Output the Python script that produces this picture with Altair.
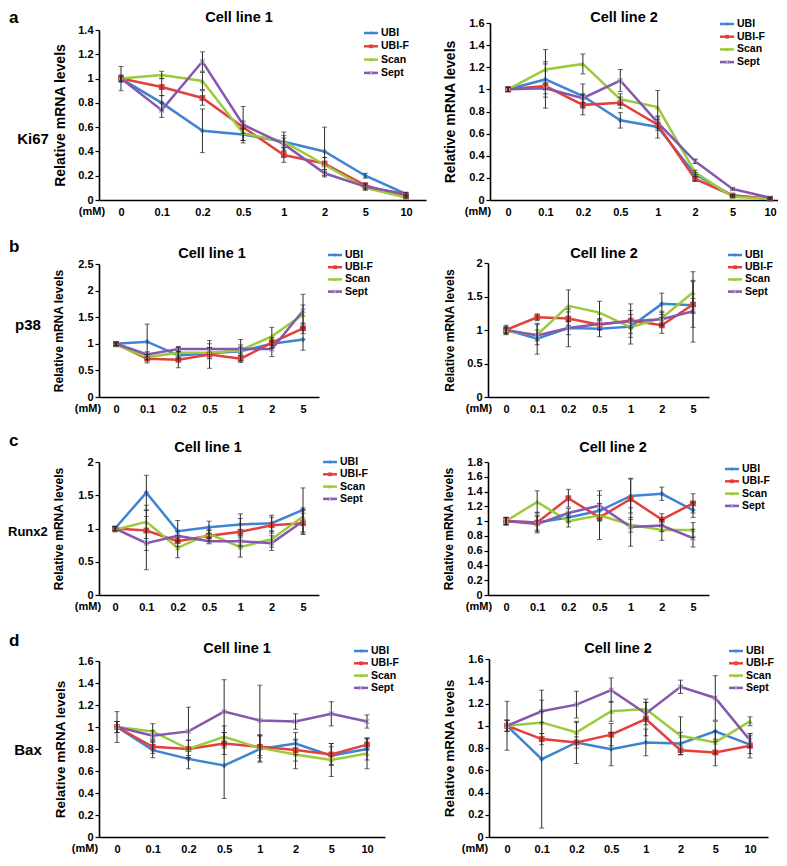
import altair as alt
import pandas as pd

# ---------------- data ----------------
DOSES_8 = ["0", "0.1", "0.2", "0.5", "1", "2", "5", "10"]
DOSES_7 = ["0", "0.1", "0.2", "0.5", "1", "2", "5"]
SERIES = ["UBI", "UBI-F", "Scan", "Sept"]
COLORS = ["#3e84d4", "#e3403b", "#9bcb3b", "#8557ae"]

ki67_cl1_mean = {
    "UBI":   [1.00, 0.80, 0.57, 0.54, 0.48, 0.40, 0.20, 0.05],
    "UBI-F": [1.00, 0.93, 0.84, 0.60, 0.37, 0.30, 0.12, 0.03],
    "Scan":  [1.00, 1.03, 0.98, 0.55, 0.48, 0.29, 0.10, 0.02],
    "Sept":  [1.00, 0.74, 1.14, 0.62, 0.46, 0.22, 0.11, 0.05],
}
ki67_cl1_err = {
    "UBI":   [0.02, 0.06, 0.18, 0.05, 0.08, 0.20, 0.02, 0.01],
    "UBI-F": [0.03, 0.07, 0.06, 0.05, 0.06, 0.05, 0.02, 0.01],
    "Scan":  [0.02, 0.03, 0.07, 0.06, 0.05, 0.06, 0.02, 0.01],
    "Sept":  [0.10, 0.06, 0.08, 0.15, 0.05, 0.03, 0.02, 0.01],
}
ki67_cl2_mean = {
    "UBI":   [1.00, 1.09, 0.94, 0.72, 0.66, 0.23, 0.04, 0.01],
    "UBI-F": [1.00, 1.03, 0.86, 0.88, 0.68, 0.19, 0.04, 0.01],
    "Scan":  [1.00, 1.18, 1.23, 0.91, 0.84, 0.25, 0.03, 0.01],
    "Sept":  [1.00, 1.01, 0.92, 1.08, 0.70, 0.35, 0.10, 0.02],
}
ki67_cl2_err = {
    "UBI":   [0.02, 0.16, 0.11, 0.07, 0.10, 0.02, 0.01, 0.01],
    "UBI-F": [0.02, 0.20, 0.09, 0.05, 0.05, 0.02, 0.01, 0.01],
    "Scan":  [0.02, 0.18, 0.09, 0.05, 0.15, 0.02, 0.01, 0.01],
    "Sept":  [0.02, 0.05, 0.04, 0.10, 0.05, 0.02, 0.01, 0.01],
}
p38_cl1_mean = {
    "UBI":   [1.00, 1.04, 0.78, 0.82, 0.86, 1.00, 1.08],
    "UBI-F": [1.00, 0.72, 0.70, 0.80, 0.72, 1.02, 1.29],
    "Scan":  [0.98, 0.75, 0.83, 0.83, 0.88, 1.14, 1.55],
    "Sept":  [1.00, 0.80, 0.90, 0.90, 0.90, 0.90, 1.62],
}
p38_cl1_err = {
    "UBI":   [0.03, 0.33, 0.08, 0.10, 0.08, 0.08, 0.20],
    "UBI-F": [0.03, 0.08, 0.15, 0.26, 0.07, 0.10, 0.10],
    "Scan":  [0.03, 0.05, 0.10, 0.10, 0.20, 0.17, 0.18],
    "Sept":  [0.03, 0.05, 0.05, 0.10, 0.08, 0.14, 0.31],
}
p38_cl2_mean = {
    "UBI":   [1.00, 0.87, 1.03, 1.02, 1.05, 1.39, 1.37],
    "UBI-F": [1.00, 1.19, 1.17, 1.08, 1.14, 1.07, 1.38],
    "Scan":  [0.98, 0.93, 1.36, 1.26, 1.04, 1.18, 1.56],
    "Sept":  [1.00, 0.92, 1.03, 1.09, 1.13, 1.16, 1.28],
}
p38_cl2_err = {
    "UBI":   [0.07, 0.23, 0.10, 0.12, 0.10, 0.16, 0.10],
    "UBI-F": [0.05, 0.05, 0.10, 0.08, 0.25, 0.12, 0.34],
    "Scan":  [0.04, 0.15, 0.24, 0.17, 0.25, 0.10, 0.31],
    "Sept":  [0.04, 0.08, 0.28, 0.08, 0.10, 0.10, 0.46],
}
runx2_cl1_mean = {
    "UBI":   [1.00, 1.54, 0.96, 1.02, 1.06, 1.08, 1.28],
    "UBI-F": [1.00, 0.97, 0.81, 0.89, 0.95, 1.05, 1.08],
    "Scan":  [0.98, 1.10, 0.71, 0.92, 0.72, 0.84, 1.18],
    "Sept":  [1.00, 0.78, 0.89, 0.81, 0.81, 0.78, 1.11],
}
runx2_cl1_err = {
    "UBI":   [0.03, 0.26, 0.16, 0.09, 0.16, 0.12, 0.33],
    "UBI-F": [0.03, 0.30, 0.08, 0.08, 0.20, 0.12, 0.15],
    "Scan":  [0.03, 0.25, 0.15, 0.06, 0.15, 0.12, 0.10],
    "Sept":  [0.03, 0.40, 0.07, 0.04, 0.08, 0.11, 0.20],
}
runx2_cl2_mean = {
    "UBI":   [1.00, 0.98, 1.05, 1.14, 1.34, 1.37, 1.15],
    "UBI-F": [1.00, 0.98, 1.31, 1.05, 1.30, 1.02, 1.24],
    "Scan":  [1.00, 1.26, 1.00, 1.08, 0.95, 0.88, 0.88],
    "Sept":  [1.00, 0.96, 1.11, 1.21, 0.92, 0.94, 0.77],
}
runx2_cl2_err = {
    "UBI":   [0.05, 0.10, 0.06, 0.10, 0.23, 0.09, 0.10],
    "UBI-F": [0.05, 0.14, 0.12, 0.30, 0.28, 0.08, 0.13],
    "Scan":  [0.05, 0.15, 0.08, 0.08, 0.10, 0.14, 0.10],
    "Sept":  [0.05, 0.10, 0.06, 0.20, 0.26, 0.08, 0.12],
}
bax_cl1_mean = {
    "UBI":   [1.00, 0.79, 0.71, 0.65, 0.80, 0.85, 0.74, 0.80],
    "UBI-F": [1.00, 0.82, 0.80, 0.85, 0.82, 0.79, 0.75, 0.84],
    "Scan":  [1.00, 0.96, 0.80, 0.91, 0.81, 0.75, 0.70, 0.76],
    "Sept":  [1.00, 0.92, 0.96, 1.14, 1.06, 1.05, 1.12, 1.05],
}
bax_cl1_err = {
    "UBI":   [0.14, 0.07, 0.09, 0.30, 0.12, 0.10, 0.08, 0.10],
    "UBI-F": [0.05, 0.06, 0.08, 0.10, 0.10, 0.10, 0.10, 0.05],
    "Scan":  [0.05, 0.07, 0.08, 0.10, 0.12, 0.13, 0.15, 0.14],
    "Sept":  [0.05, 0.05, 0.22, 0.29, 0.32, 0.07, 0.11, 0.06],
}
bax_cl2_mean = {
    "UBI":   [1.00, 0.70, 0.85, 0.79, 0.85, 0.84, 0.95, 0.83],
    "UBI-F": [1.00, 0.88, 0.85, 0.92, 1.06, 0.78, 0.76, 0.82],
    "Scan":  [1.00, 1.03, 0.94, 1.13, 1.15, 0.91, 0.85, 1.04],
    "Sept":  [1.00, 1.13, 1.19, 1.32, 1.11, 1.35, 1.25, 0.87],
}
bax_cl2_err = {
    "UBI":   [0.22, 0.62, 0.19, 0.15, 0.12, 0.10, 0.09, 0.08],
    "UBI-F": [0.05, 0.05, 0.05, 0.10, 0.15, 0.04, 0.12, 0.11],
    "Scan":  [0.05, 0.10, 0.09, 0.09, 0.09, 0.17, 0.10, 0.04],
    "Sept":  [0.05, 0.10, 0.12, 0.11, 0.10, 0.06, 0.20, 0.06],
}

Y_TICKS_14 = [0, 0.2, 0.4, 0.6, 0.8, 1, 1.2, 1.4]
Y_TICKS_16 = [0, 0.2, 0.4, 0.6, 0.8, 1, 1.2, 1.4, 1.6]
Y_TICKS_18 = [0, 0.2, 0.4, 0.6, 0.8, 1, 1.2, 1.4, 1.6, 1.8]
Y_TICKS_20 = [0, 0.5, 1, 1.5, 2]
Y_TICKS_25 = [0, 0.5, 1, 1.5, 2, 2.5]

# ---------------- style / layout ----------------
FONT = "Liberation Sans"
W, H = 770, 846
EB = "#2b2b2b"
SEPT_MARK = "#b49bd2"
XPATH = "M-1,-1L1,1M-1,1L1,-1"
MARKERS = {
    "UBI": dict(shape="diamond", filled=True),
    "UBI-F": dict(shape="square", filled=True),
    "Scan": dict(shape="triangle-up", filled=True),
}


def build_df(doses, mean, err):
    rows = []
    for s in SERIES:
        for i, (d, v, e) in enumerate(zip(doses, mean[s], err[s])):
            rows.append({"series": s, "dose": d, "idx": i, "value": v,
                         "lo": v - e, "hi": v + e})
    return pd.DataFrame(rows)


def x_scale(doses, xl, p0, p1, xr):
    n = len(doses)
    step = (p1 - p0) / (n - 1)
    outer = (xr - xl) - (p1 - p0)
    return alt.Scale(type="point", domain=doses, range=[xl, xr],
                     padding=outer / (2 * step), align=(p0 - xl) / outer)


def panel(doses, mean, err, xg, yg, ymax, yticks, tsize, tpad):
    df = build_df(doses, mean, err)
    xl, p0, p1, xr = xg
    yb, yt = yg
    sx = x_scale(doses, xl, p0, p1, xr)
    ax_x = alt.Axis(orient="bottom", offset=yb - H, title=None, labelAngle=0,
                    ticks=False, domainColor="black", domainWidth=1.6,
                    labelFont=FONT, labelFontSize=11, labelFontWeight="bold",
                    labelColor="black", labelPadding=6, grid=False,
                    labelOverlap=False)
    sy = alt.Scale(domain=[0, ymax], range=[yb, yt], nice=False, zero=True)
    ax_y = alt.Axis(orient="left", offset=-xl, values=yticks, format="~g",
                    title="Relative mRNA levels", titleFont=FONT,
                    titleFontSize=tsize, titleFontWeight="bold",
                    titleColor="black", titlePadding=tpad, tickSize=4,
                    tickColor="black", tickWidth=1.2, domainColor="black",
                    domainWidth=1.6, labelFont=FONT, labelFontSize=11,
                    labelFontWeight="bold", labelColor="black",
                    labelPadding=2, grid=False, labelOverlap=False)
    X = alt.X("dose:N", scale=sx, axis=ax_x)
    Yv = alt.Y("value:Q", scale=sy, axis=ax_y)
    cscale = alt.Scale(domain=SERIES, range=COLORS)
    base = alt.Chart(df)

    layers = [
        base.mark_line(strokeWidth=2.5).encode(
            X, Yv,
            color=alt.Color("series:N", scale=cscale, legend=None),
            order=alt.Order("idx:Q"),
        )
    ]
    sizes = {"UBI": 30, "UBI-F": 34, "Scan": 30}
    for s, spec in MARKERS.items():
        layers.append(
            base.transform_filter(alt.datum.series == s)
            .mark_point(opacity=1, size=sizes[s], **spec)
            .encode(X, Yv, color=alt.Color("series:N", scale=cscale, legend=None))
        )
    layers.append(
        base.transform_filter(alt.datum.series == "Sept")
        .mark_point(shape=XPATH, size=22, filled=False, opacity=1,
                    strokeWidth=1.3, color=SEPT_MARK)
        .encode(X, Yv)
    )
    layers.append(
        base.mark_rule(color=EB, strokeWidth=1).encode(
            X, alt.Y("lo:Q", scale=sy, axis=ax_y), y2="hi:Q")
    )
    for f in ["lo", "hi"]:
        layers.append(
            base.mark_tick(color=EB, thickness=1, size=5).encode(
                X, alt.Y(f"{f}:Q", scale=sy, axis=ax_y))
        )
    return alt.layer(*layers)


def legend(lx, y0, sp):
    """Series key: colour line + marker + name, placed through a point scale."""
    ldf = pd.DataFrame({"series": SERIES})
    Y = alt.Y("series:N", axis=None,
              scale=alt.Scale(type="point", domain=SERIES,
                              range=[y0, y0 + 3 * sp], padding=0))
    C = alt.Color("series:N", scale=alt.Scale(domain=SERIES, range=COLORS),
                  legend=None)
    base = alt.Chart(ldf)
    layers = [
        base.mark_rule(strokeWidth=2.5).encode(
            x=alt.value(lx), x2=alt.value(lx + 14), y=Y, color=C)
    ]
    for s, spec in MARKERS.items():
        layers.append(
            base.transform_filter(alt.datum.series == s)
            .mark_point(opacity=1, size=14, **spec)
            .encode(x=alt.value(lx + 7), y=Y, color=C)
        )
    layers.append(
        base.transform_filter(alt.datum.series == "Sept")
        .mark_point(shape=XPATH, size=12, filled=False, opacity=1,
                    strokeWidth=1.1, color=SEPT_MARK)
        .encode(x=alt.value(lx + 7), y=Y)
    )
    layers.append(
        base.mark_text(font=FONT, fontSize=10.5, fontWeight="bold",
                       color="black", align="left", baseline="middle")
        .encode(x=alt.value(lx + 17), y=Y, text="series:N")
    )
    return alt.layer(*layers)


def label(text, x, y, size, align="center"):
    return alt.Chart(alt.Data(values=[{}])).mark_text(
        text=text, font=FONT, fontSize=size, fontWeight="bold", color="black",
        align=align, baseline="middle"
    ).encode(x=alt.value(x), y=alt.value(y))


panels = [
    panel(DOSES_8, ki67_cl1_mean, ki67_cl1_err, (91, 113, 398, 418), (192, 22),
          1.4, Y_TICKS_14, 14, 10),
    panel(DOSES_8, ki67_cl2_mean, ki67_cl2_err, (482, 500, 762, 770), (192, 15),
          1.6, Y_TICKS_16, 14, 11),
    panel(DOSES_7, p38_cl1_mean, p38_cl1_err, (91, 108, 295, 311), (389, 256),
          2.5, Y_TICKS_25, 12, 12),
    panel(DOSES_7, p38_cl2_mean, p38_cl2_err, (480, 498, 685, 701), (389, 255),
          2.0, Y_TICKS_20, 12, 10),
    panel(DOSES_7, runx2_cl1_mean, runx2_cl1_err, (91, 107, 295, 311), (587, 454),
          2.0, Y_TICKS_20, 12, 12),
    panel(DOSES_7, runx2_cl2_mean, runx2_cl2_err, (480, 498, 685, 701), (587, 454),
          1.8, Y_TICKS_18, 12, 11),
    panel(DOSES_8, bax_cl1_mean, bax_cl1_err, (91, 109, 359, 377), (829, 653),
          1.6, Y_TICKS_16, 13.5, 10),
    panel(DOSES_8, bax_cl2_mean, bax_cl2_err, (481, 499, 742, 760), (829, 651),
          1.6, Y_TICKS_16, 13.5, 11),
]

legends = [
    legend(356, 25, 13.3),
    legend(712, 16, 12.7),
    legend(320, 247, 12.2),
    legend(720, 247, 12.2),
    legend(315, 454, 12.3),
    legend(717, 461, 12.3),
    legend(346, 643, 12.3),
    legend(721, 643, 12.3),
]

texts = [
    label("a", 1, 10, 17, "left"),
    label("b", 1, 239, 17, "left"),
    label("c", 1, 433, 17, "left"),
    label("d", 1, 633, 17, "left"),
    label("Ki67", 25, 131, 15),
    label("p38", 20, 317, 15),
    label("Runx2", 0, 524, 13, "left"),
    label("Bax", 20, 742, 15),
    label("Cell line 1", 231, 10, 14.5),
    label("Cell line 2", 616, 10, 14.5),
    label("Cell line 1", 204, 246, 14.5),
    label("Cell line 2", 596, 246, 14.5),
    label("Cell line 1", 200, 440, 14.5),
    label("Cell line 2", 605, 440, 14.5),
    label("Cell line 1", 229, 641, 14.5),
    label("Cell line 2", 610, 641, 14.5),
    label("(mM)", 84, 204, 11),
    label("(mM)", 470, 204, 11),
    label("(mM)", 80, 401, 11),
    label("(mM)", 471, 401, 11),
    label("(mM)", 80, 599, 11),
    label("(mM)", 471, 599, 11),
    label("(mM)", 77, 841, 11),
    label("(mM)", 467, 841, 11),
]

chart = alt.layer(*panels, *legends, *texts).resolve_scale(
    x="independent", y="independent", color="independent"
).properties(
    width=W, height=H, padding=0,
    autosize=alt.AutoSizeParams(type="none"),
).configure_view(stroke=None)

chart.save("out.html", embed_options={"renderer": "svg", "actions": False})
